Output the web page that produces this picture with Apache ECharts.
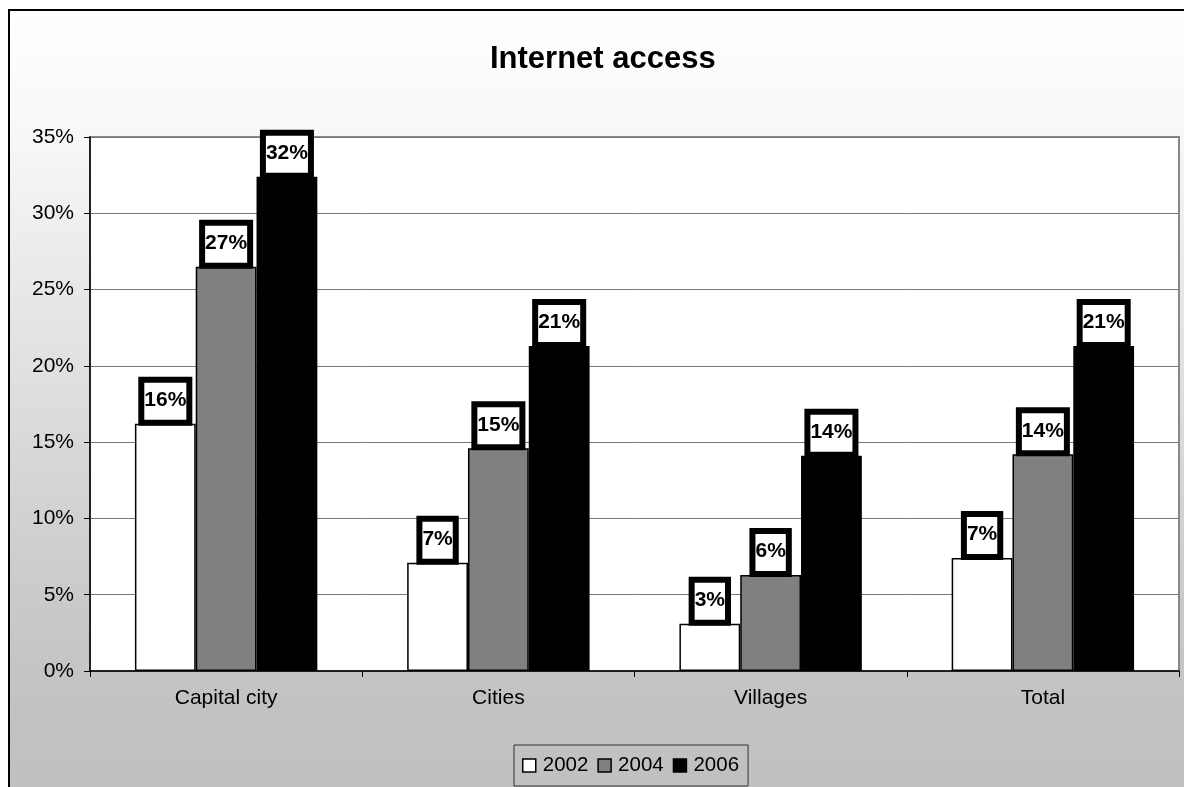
<!DOCTYPE html>
<html>
<head>
<meta charset="utf-8">
<script src="https://cdn.jsdelivr.net/npm/echarts@6/dist/echarts.min.js"></script>
<style>
  html, body { margin: 0; padding: 0; background: #ffffff; }
  #chart { width: 1184px; height: 787px; }
</style>
</head>
<body>
<div id="chart"></div>
<script>
// Share of households with internet access, by settlement type
const categories = ['Capital city', 'Cities', 'Villages', 'Total'];
const years = ['2002', '2004', '2006'];
const access2002 = [16.2, 7.1, 3.1, 7.4];
const access2004 = [26.5, 14.6, 6.3, 14.2];
const access2006 = [32.4, 21.3, 14.1, 21.3];
const yTicks = { min: 0, max: 35, step: 5 };

const barColors = ['#ffffff', '#808080', '#000000'];
const seriesValues = [access2002, access2004, access2006];

const chart = echarts.init(document.getElementById('chart'));

const labelStyle = {
  show: true,
  position: 'top',
  distance: 4,
  formatter: p => Math.round(p.value) + '%',
  fontFamily: 'Arial, "Liberation Sans", sans-serif',
  fontWeight: 'bold',
  fontSize: 21,
  lineHeight: 21,
  color: '#000',
  backgroundColor: '#ffffff',
  borderColor: '#000000',
  borderWidth: 6,
  padding: [7, 0, 9, 0]
};

chart.setOption({
  animation: false,
  graphic: [{
    type: 'rect',
    z: -10,
    silent: true,
    shape: { x: 9, y: 10, width: 1200, height: 790 },
    style: {
      fill: new echarts.graphic.LinearGradient(0, 0, 0, 1, [
        { offset: 0, color: '#ffffff' },
        { offset: 0.15, color: '#f8f8f8' },
        { offset: 0.7, color: '#cdcdcd' },
        { offset: 0.88, color: '#c2c2c2' },
        { offset: 1, color: '#c0c0c0' }
      ]),
      stroke: '#000000',
      lineWidth: 2
    }
  }],
  title: {
    text: 'Internet access',
    left: 485,
    top: 39,
    textStyle: {
      fontFamily: 'Arial, "Liberation Sans", sans-serif',
      fontWeight: 'bold',
      fontSize: 31,
      color: '#000'
    }
  },
  legend: {
    data: years,
    left: 514,
    top: 745,
    orient: 'horizontal',
    padding: [10, 9, 10, 8],
    itemGap: 9,
    itemWidth: 13,
    itemHeight: 13,
    borderColor: '#333333',
    borderWidth: 1,
    icon: 'rect',
    itemStyle: { borderColor: '#000', borderWidth: 1.5 },
    textStyle: {
      fontFamily: 'Arial, "Liberation Sans", sans-serif',
      fontSize: 20.5,
      color: '#000',
      padding: [0, 0, 0, 2]
    }
  },
  grid: {
    left: 90,
    top: 137,
    right: 5,
    bottom: 116,
    show: true,
    backgroundColor: '#ffffff',
    borderColor: '#888888',
    borderWidth: 2
  },
  xAxis: {
    type: 'category',
    data: categories,
    axisLine: { lineStyle: { color: '#000', width: 1.5 } },
    axisTick: { show: true, length: 6, lineStyle: { color: '#000' } },
    axisLabel: {
      margin: 17,
      fontFamily: 'Arial, "Liberation Sans", sans-serif',
      fontSize: 21,
      color: '#000'
    }
  },
  yAxis: {
    type: 'value',
    min: yTicks.min,
    max: yTicks.max,
    interval: yTicks.step,
    axisLine: { show: true, lineStyle: { color: '#000', width: 1.5 } },
    axisTick: { show: true, length: 6, lineStyle: { color: '#000' } },
    splitLine: { lineStyle: { color: '#777777', width: 1 } },
    axisLabel: {
      margin: 16,
      formatter: '{value}%',
      fontFamily: 'Arial, "Liberation Sans", sans-serif',
      fontSize: 21,
      color: '#000'
    }
  },
  series: years.map((y, i) => ({
    name: y,
    type: 'bar',
    data: seriesValues[i],
    barGap: '0%',
    barCategoryGap: '33%',
    itemStyle: {
      color: barColors[i],
      borderColor: '#000000',
      borderWidth: 1.5
    },
    label: labelStyle
  }))
});
</script>
</body>
</html>
